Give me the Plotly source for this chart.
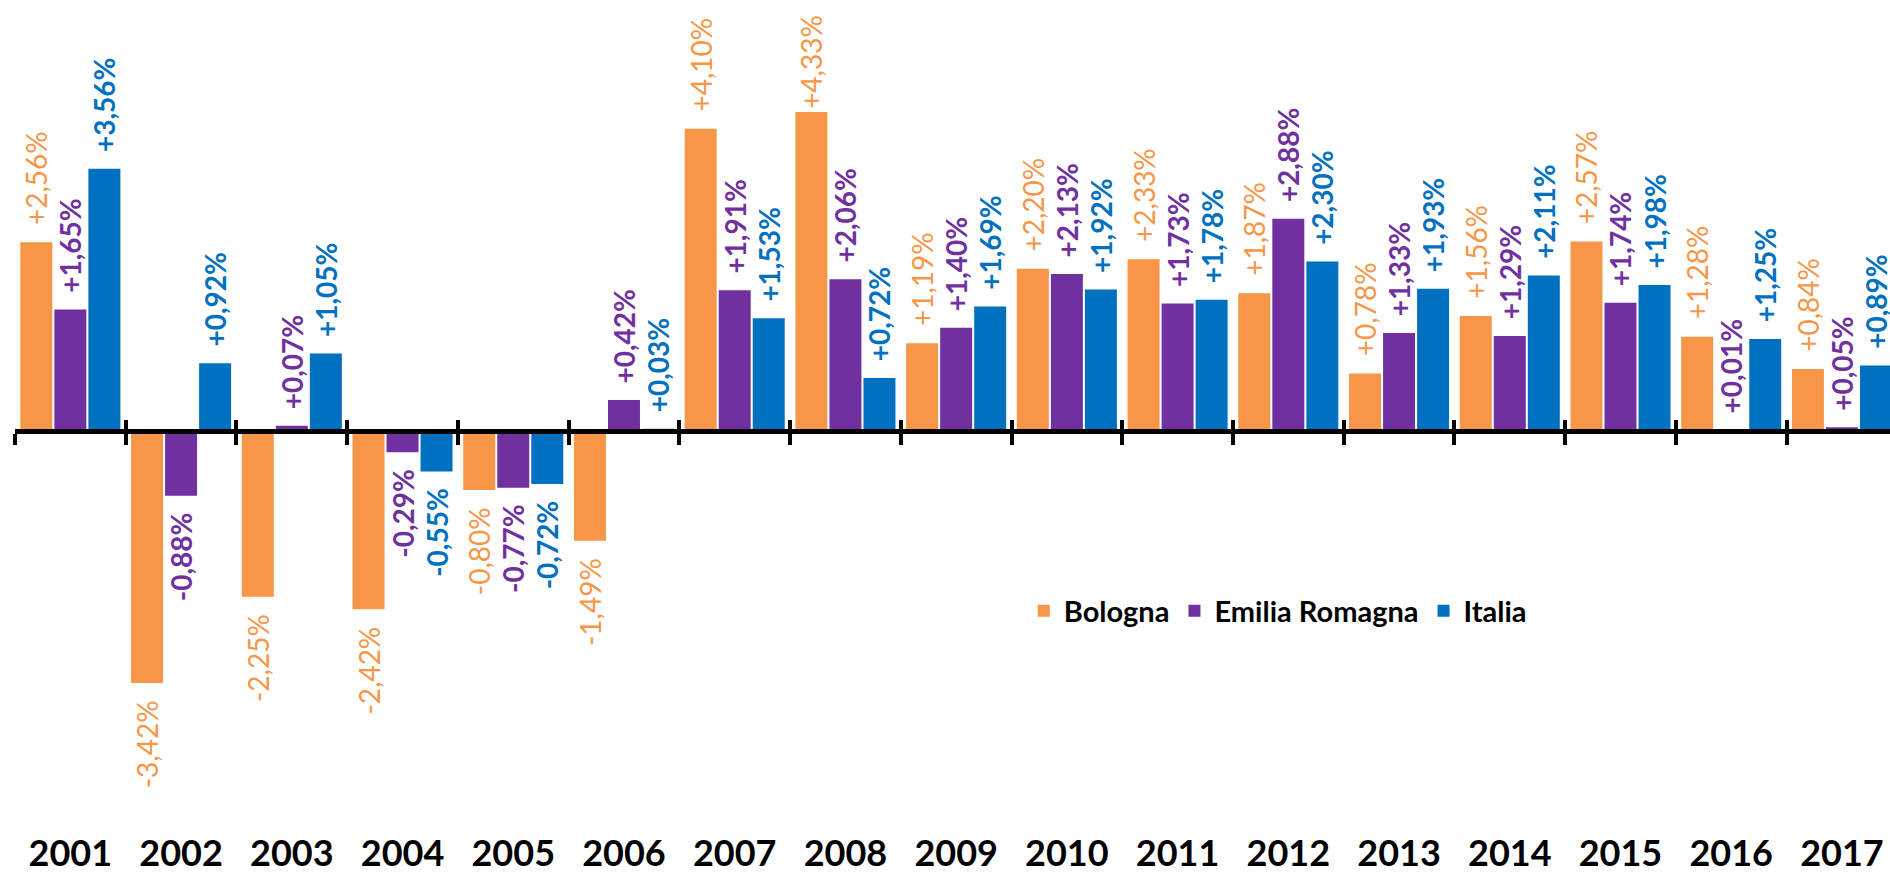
import plotly.graph_objects as go

years = ["2001", "2002", "2003", "2004", "2005", "2006", "2007", "2008", "2009",
         "2010", "2011", "2012", "2013", "2014", "2015", "2016", "2017"]
bologna = [2.56, -3.42, -2.25, -2.42, -0.80, -1.49, 4.10, 4.33, 1.19,
           2.20, 2.33, 1.87, 0.78, 1.56, 2.57, 1.28, 0.84]
emilia = [1.65, -0.88, 0.07, -0.29, -0.77, 0.42, 1.91, 2.06, 1.40,
          2.13, 1.73, 2.88, 1.33, 1.29, 1.74, 0.01, 0.05]
italia = [3.56, 0.92, 1.05, -0.55, -0.72, 0.03, 1.53, 0.72, 1.69,
          1.92, 1.78, 2.30, 1.93, 2.11, 1.98, 1.25, 0.89]

names = ["Bologna", "Emilia Romagna", "Italia"]
colors = ["#F79646", "#7030A0", "#0070C0"]
weights = ["normal", "bold", "bold"]

W, H = 1890, 873
ML, MT = 15, 0
PLOT_BOTTOM = 829
ZERO_PX = 431
PX_PER_UNIT = 73.7
LABEL_LEN = 100  # approximate pixel length of a rotated label

ymax = (ZERO_PX - MT) / PX_PER_UNIT
ymin = -(PLOT_BOTTOM - ZERO_PX) / PX_PER_UNIT
zero_pos = (0 - ymin) / (ymax - ymin)
xr = [-0.5, 16.434]

NB = "\u00a0\u00a0"


def fmt(v):
    s = f"{v:+.2f}".replace(".", ",") + "%"
    if v >= 0:
        # like the original, labels that would leave the chart hug the bar
        room = ZERO_PX - MT - v * PX_PER_UNIT
        return s if room < LABEL_LEN + 15 else NB + s
    return s + NB


fig = go.Figure()
for name, vals, col, wt in zip(names, [bologna, emilia, italia], colors, weights):
    fig.add_trace(go.Bar(
        x=years, y=vals, name=name,
        marker=dict(color=col, line=dict(width=0)),
        text=[fmt(v) for v in vals],
        textposition="outside", textangle=-90,
        textfont=dict(family="Lato", size=28, color=col, weight=wt),
        constraintext="none", cliponaxis=False,
    ))

# helper traces so overlay axes are drawn
for ax in ["x2", "x3"]:
    fig.add_trace(go.Scatter(x=[], y=[], xaxis=ax, yaxis="y", showlegend=False,
                             hoverinfo="skip"))

bounds = [i - 0.5 for i in range(len(years) + 1)]

fig.update_layout(
    template="none",
    width=W, height=H,
    margin=dict(l=ML, r=0, t=MT, b=H - PLOT_BOTTOM, pad=0),
    paper_bgcolor="white", plot_bgcolor="white",
    barmode="group", bargap=0.078, bargroupgap=0.06,
    showlegend=True,
    legend=dict(orientation="h", x=0.538, xanchor="left",
                y=1 - (611 - MT) / (PLOT_BOTTOM - MT), yanchor="middle",
                font=dict(family="Lato", size=29, color="black", weight="bold"),
                bgcolor="rgba(0,0,0,0)", borderwidth=0, itemwidth=30,
                traceorder="normal"),
    xaxis=dict(type="category", range=xr, showgrid=False, zeroline=False,
               showline=False, ticks="", automargin=False,
               tickfont=dict(family="Lato", size=36, color="black", weight="bold")),
    xaxis2=dict(type="linear", overlaying="x", anchor="free", position=zero_pos,
                range=xr, showgrid=False, zeroline=False, showline=True,
                linecolor="black", linewidth=5, ticks="outside", ticklen=11,
                tickwidth=4, tickcolor="black", tickmode="array", tickvals=bounds,
                showticklabels=False, automargin=False),
    xaxis3=dict(type="linear", overlaying="x", anchor="free", position=zero_pos,
                range=xr, showgrid=False, zeroline=False, showline=False,
                ticks="inside", ticklen=11, tickwidth=4, tickcolor="black",
                tickmode="array", tickvals=bounds, showticklabels=False,
                automargin=False),
    yaxis=dict(range=[ymin, ymax], showgrid=False, zeroline=False, showline=False,
               showticklabels=False, ticks="", automargin=False),
)

fig.write_html("out.html", config={"displayModeBar": False},
               post_script="document.body.style.margin='0';document.body.style.overflow='hidden';")
